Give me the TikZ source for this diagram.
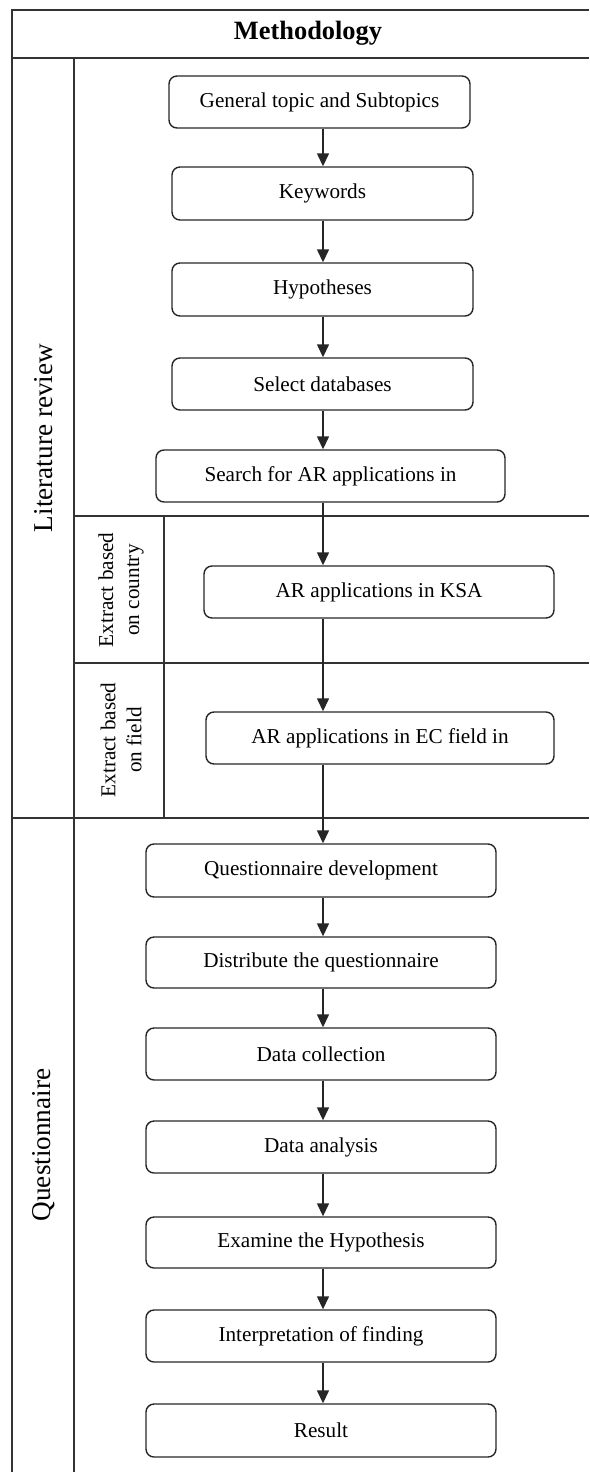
\documentclass[tikz,border=0pt]{standalone}
\usepackage{fontspec}
\setmainfont{Liberation Serif}
\usetikzlibrary{arrows.meta}
\begin{document}
\begin{tikzpicture}[x=0.5pt,y=-0.5pt,
  lane/.style={line width=0.9pt, draw=black!80},
  stepbox/.style={draw=black!85, line width=0.7pt, rounded corners=4pt, inner sep=0pt,
    font=\fontsize{10.6pt}{12pt}\selectfont, align=center},
  flow/.style={line width=0.7pt, draw=black!85, -{Triangle[length=6.5pt,width=6pt]}},
  lanelabel/.style={rotate=90, font=\fontsize{13.6pt}{16pt}\selectfont},
  sublabel/.style={rotate=90, align=center, font=\fontsize{10.6pt}{13pt}\selectfont}]
\useasboundingbox (0,0) rectangle (589,1472);
% lane frame
\draw[lane] (589,10) -- (12,10) -- (12,1472);
\draw[lane] (12,58) -- (589,58);
\draw[lane] (74,58) -- (74,1472);
\draw[lane] (74,516) -- (589,516);
\draw[lane] (74,663) -- (589,663);
\draw[lane] (164,516) -- (164,818);
\draw[lane] (12,818) -- (589,818);
% labels
\node[font=\fontsize{13.2pt}{16pt}\selectfont\bfseries] (title) at (308,33) {Methodology};
\node[lanelabel] (litlab) at (44,438) {Literature review};
\node[lanelabel] (qlab) at (44,1145) {Questionnaire};
\node[sublabel] (sub1) at (121,590) {Extract based\\on country};
\node[sublabel] (sub2) at (121,740) {Extract based\\on field};
% boxes
\node[stepbox, minimum width=150.5pt, minimum height=26pt] (gen) at (319.5,102) {General topic and Subtopics};
\node[stepbox, minimum width=150.5pt, minimum height=26.5pt] (kw) at (322.5,193.5) {Keywords};
\node[stepbox, minimum width=150.5pt, minimum height=26.5pt] (hyp) at (322.5,289.5) {Hypotheses};
\node[stepbox, minimum width=150.5pt, minimum height=26pt] (sel) at (322.5,384) {Select databases};
\node[stepbox, minimum width=174.5pt, minimum height=26pt] (search) at (330.5,476) {Search for AR applications in};
\node[stepbox, minimum width=175pt, minimum height=26pt] (ksa) at (379,592) {AR applications in KSA};
\node[stepbox, minimum width=174pt, minimum height=26pt] (ec) at (380,738) {AR applications in EC field in};
\node[stepbox, minimum width=175pt, minimum height=26.5pt] (qdev) at (321,870.5) {Questionnaire development};
\node[stepbox, minimum width=175pt, minimum height=25.5pt] (dist) at (321,962.5) {Distribute the questionnaire};
\node[stepbox, minimum width=175pt, minimum height=26pt] (dcol) at (321,1054) {Data collection};
\node[stepbox, minimum width=175pt, minimum height=26pt] (dana) at (321,1147) {Data analysis};
\node[stepbox, minimum width=175pt, minimum height=25.5pt] (exam) at (321,1242.5) {Examine the Hypothesis};
\node[stepbox, minimum width=175pt, minimum height=26pt] (interp) at (321,1336) {Interpretation of finding};
\node[stepbox, minimum width=175pt, minimum height=26.5pt] (res) at (321,1430.5) {Result};
% arrows
\coordinate (ax) at (323,0);
\draw[flow] (gen.south -| ax) -- (kw.north -| ax);
\draw[flow] (kw.south -| ax) -- (hyp.north -| ax);
\draw[flow] (hyp.south -| ax) -- (sel.north -| ax);
\draw[flow] (sel.south -| ax) -- (search.north -| ax);
\draw[flow] (search.south -| ax) -- (ksa.north -| ax);
\draw[flow] (ksa.south -| ax) -- (ec.north -| ax);
\draw[flow] (ec.south -| ax) -- (qdev.north -| ax);
\draw[flow] (qdev.south -| ax) -- (dist.north -| ax);
\draw[flow] (dist.south -| ax) -- (dcol.north -| ax);
\draw[flow] (dcol.south -| ax) -- (dana.north -| ax);
\draw[flow] (dana.south -| ax) -- (exam.north -| ax);
\draw[flow] (exam.south -| ax) -- (interp.north -| ax);
\draw[flow] (interp.south -| ax) -- (res.north -| ax);
\end{tikzpicture}
\end{document}
